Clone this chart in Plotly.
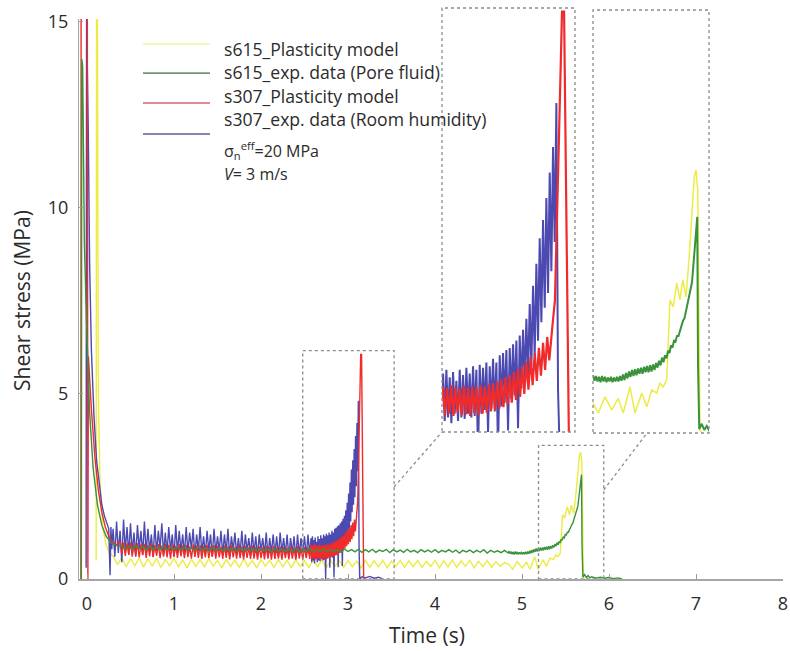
import numpy as np
import plotly.graph_objects as go

# ------------------------------------------------------------------ data
series_names = ["s615_Plasticity model", "s615_exp. data (Pore fluid)",
                "s307_Plasticity model", "s307_exp. data (Room humidity)"]
x_ticks = [0, 1, 2, 3, 4, 5, 6, 7, 8]
y_ticks = [0, 5, 10, 15]

# --- s307 plasticity model (red)
red_start_t = [-0.07, -0.068, 0.004, 0.010, 0.016, 0.05, 0.09, 0.13, 0.17, 0.21, 0.25, 0.30, 0.34]
red_start_v = [0.0, 15.1, 15.1, 0.0, 6.0, 4.6, 3.3, 2.4, 1.8, 1.4, 1.15, 0.98, 0.92]
red_plateau_span = [0.38, 2.56]
red_plateau_v = [1.02, 0.68, 0.98, 0.62, 0.96, 0.66, 0.99, 0.60, 0.94, 0.63,
                 0.97, 0.58, 0.93, 0.64, 0.95, 0.57, 0.92, 0.61, 0.96, 0.59,
                 0.91, 0.62, 0.94, 0.56, 0.90, 0.60, 0.95, 0.58, 0.92, 0.55,
                 0.93, 0.60, 0.89, 0.57, 0.94, 0.61, 0.90, 0.56, 0.92, 0.59,
                 0.88, 0.55, 0.93, 0.60, 0.90, 0.57, 0.91, 0.54, 0.89, 0.58,
                 0.92, 0.56, 0.88, 0.60, 0.91, 0.55, 0.90, 0.58, 0.87, 0.54,
                 0.90, 0.57, 0.88, 0.53, 0.91, 0.58, 0.86, 0.55, 0.90, 0.56,
                 0.87, 0.53, 0.89, 0.57, 0.85, 0.54, 0.90, 0.55, 0.86, 0.52,
                 0.88, 0.56, 0.85, 0.53, 0.89, 0.55, 0.86, 0.52, 0.88, 0.54,
                 0.85, 0.55, 0.87, 0.52, 0.86, 0.56, 0.84, 0.53, 0.87, 0.55,
                 0.85, 0.52, 0.88, 0.55, 0.84, 0.53, 0.86, 0.56, 0.85, 0.54]
red_rise_span = [2.575, 3.085]
red_rise_v = [0.92, 0.53, 0.90, 0.55, 0.94, 0.52, 0.91, 0.56, 0.89, 0.53,
              0.93, 0.54, 0.90, 0.52, 0.92, 0.56, 0.91, 0.53, 0.94, 0.55,
              0.92, 0.56, 0.95, 0.58, 0.97, 0.60, 0.99, 0.62, 1.02, 0.64,
              1.05, 0.67, 1.08, 0.70, 1.12, 0.74, 1.16, 0.78, 1.20, 0.82,
              1.26, 0.88, 1.32, 0.94, 1.38, 1.00, 1.45, 1.07, 1.52, 1.15,
              1.60, 1.28]
red_peak_t = [3.10, 3.112, 3.13, 3.146, 3.156, 3.165, 3.175, 3.18]
red_peak_v = [1.75, 2.10, 4.16, 6.05, 6.05, 3.47, 1.56, 0.0]

# --- s307 experimental data (blue)
blue_start_t = [-0.01, -0.005, 0.015, 0.03, 0.05, 0.08, 0.11, 0.14, 0.17, 0.20, 0.23, 0.25, 0.265, 0.275, 0.285]
blue_start_v = [0.3, 15.1, 12.0, 8.5, 6.2, 4.4, 3.2, 2.5, 2.0, 1.7, 1.5, 1.35, 0.1, 1.4, 0.8]
blue_plateau_span = [0.30, 2.56]
blue_plateau_v = [1.35, 0.60, 1.55, 0.70, 1.30, 0.45, 1.60, 0.75, 1.40, 0.65,
                  1.50, 0.70, 1.25, 0.60, 1.45, 0.80, 1.30, 0.65, 1.55, 0.70,
                  1.35, 0.75, 1.20, 0.60, 1.45, 0.70, 1.30, 0.80, 1.50, 0.65,
                  1.25, 0.70, 1.40, 0.75, 1.20, 0.60, 1.45, 0.70, 1.30, 0.75,
                  1.20, 0.65, 1.40, 0.70, 1.25, 0.80, 1.35, 0.60, 1.20, 0.75,
                  1.40, 0.70, 1.15, 0.65, 1.30, 0.75, 1.20, 0.60, 1.35, 0.70,
                  1.15, 0.75, 1.30, 0.65, 1.20, 0.70, 1.35, 0.60, 1.15, 0.75,
                  1.25, 0.65, 1.10, 0.70, 1.30, 0.60, 1.20, 0.75, 1.10, 0.65,
                  1.25, 0.70, 1.15, 0.60, 1.20, 0.75, 1.10, 0.65, 1.25, 0.60,
                  1.10, 0.70, 1.20, 0.65, 1.15, 0.60, 1.25, 0.70, 1.10, 0.65,
                  1.20, 0.60, 1.10, 0.70, 1.15, 0.55, 1.20, 0.65, 1.10, 0.70,
                  1.15, 0.60, 1.20, 0.65]
blue_rise_span = [2.575, 3.119]
blue_rise_v = [1.10, 0.45, 1.15, 0.50, 1.05, 0.42, 1.12, 0.55, 1.00, 0.45,
               1.15, 0.50, 1.08, 0.48, 1.18, 0.55, 1.10, 0.50, 1.20, 0.52,
               1.15, 0.00, 1.22, 0.55, 1.18, 0.60, 1.25, 0.30, 1.20, 0.62,
               1.30, 0.58, 1.25, 0.05, 1.35, 0.65, 1.38, 0.70, 1.42, 0.32,
               1.45, 0.75, 1.50, 0.80, 1.55, 0.35, 1.62, 0.90, 1.70, 0.98,
               1.85, 1.05, 2.05, 1.20, 2.30, 1.35, 2.60, 1.55, 2.95, 1.80,
               3.20, 2.00, 3.50, 2.20, 3.85, 2.50, 4.20, 2.90, 4.80]
blue_tail_t = [3.127, 3.135, 3.16, 3.20, 3.25, 3.30, 3.35, 3.40]
blue_tail_v = [0.87, 0.0, 0.06, 0.03, 0.07, 0.02, 0.05, 0.0]

# --- s615 experimental data (green)
green_start_t = [-0.065, -0.06, -0.05, -0.03, 0.0, 0.03, 0.07, 0.12, 0.17, 0.22, 0.28, 0.34]
green_start_v = [0.0, 14.0, 13.8, 9.0, 6.5, 4.5, 3.0, 2.0, 1.45, 1.15, 0.97, 0.90]
green_plateau_span = [0.40, 4.84]
green_plateau_v = [0.90, 0.82, 0.88, 0.80, 0.90, 0.81, 0.87, 0.79, 0.89, 0.80,
                   0.86, 0.79, 0.88, 0.78, 0.85, 0.80, 0.87, 0.77, 0.86, 0.79,
                   0.84, 0.77, 0.86, 0.78, 0.83, 0.76, 0.85, 0.78, 0.84, 0.76,
                   0.83, 0.77, 0.85, 0.75, 0.82, 0.77, 0.84, 0.76, 0.82, 0.75,
                   0.83, 0.76, 0.81, 0.74, 0.83, 0.76, 0.82, 0.74, 0.81, 0.75,
                   0.82, 0.74, 0.80, 0.75, 0.82, 0.73, 0.80, 0.75, 0.81, 0.73,
                   0.80, 0.74, 0.79, 0.72, 0.81, 0.74, 0.79, 0.73, 0.80, 0.72,
                   0.79, 0.73, 0.80, 0.72, 0.78, 0.74, 0.80, 0.71, 0.79, 0.73,
                   0.78, 0.72, 0.80, 0.73, 0.77, 0.71, 0.79, 0.73, 0.78, 0.72,
                   0.79, 0.71, 0.77, 0.73, 0.79, 0.72, 0.78, 0.70, 0.77, 0.73,
                   0.78, 0.71, 0.77, 0.72, 0.79, 0.70, 0.77, 0.72, 0.76, 0.71,
                   0.77, 0.70]
green_rise_span = [4.85, 5.678]
green_rise_v = [0.75, 0.68, 0.74, 0.67, 0.73, 0.66, 0.74, 0.67, 0.73, 0.66,
                0.72, 0.67, 0.73, 0.66, 0.72, 0.67, 0.73, 0.67, 0.74, 0.68,
                0.76, 0.69, 0.78, 0.71, 0.80, 0.73, 0.82, 0.74, 0.83, 0.75,
                0.84, 0.77, 0.85, 0.77, 0.86, 0.79, 0.87, 0.79, 0.88, 0.80,
                0.89, 0.82, 0.91, 0.85, 0.94, 0.88, 0.98, 0.92, 1.01, 0.97,
                1.07, 1.04, 1.14, 1.11, 1.20, 1.19, 1.26, 1.26, 1.34, 1.38,
                1.46, 1.49, 1.58, 1.66, 1.77, 1.85, 1.96, 2.20, 2.47, 2.70]
green_tail_t = [5.684, 5.69, 5.694, 5.70, 5.72, 5.74, 5.76, 5.78, 5.80, 5.85,
                5.90, 5.95, 6.00, 6.05, 6.10, 6.15]
green_tail_v = [2.81, 0.90, 0.10, 0.05, 0.12, 0.04, 0.09, 0.03, 0.06, 0.02,
                0.05, 0.02, 0.04, 0.01, 0.03, 0.0]

# --- s615 plasticity model (yellow)
yel_start_t = [0.105, 0.11, 0.12, 0.13, 0.15, 0.18, 0.22, 0.26]
yel_start_v = [0.5, 15.1, 15.1, 5.0, 2.6, 1.4, 0.9, 0.7]
yel_plateau_span = [0.30, 4.80]
yel_plateau_v = [0.62, 0.38, 0.58, 0.33, 0.55, 0.36, 0.56, 0.32, 0.54, 0.35,
                 0.55, 0.31, 0.52, 0.36, 0.56, 0.33, 0.51, 0.30, 0.54, 0.34,
                 0.52, 0.32, 0.55, 0.35, 0.50, 0.30, 0.53, 0.34, 0.51, 0.31,
                 0.54, 0.33, 0.50, 0.30, 0.52, 0.35, 0.50, 0.31, 0.53, 0.33,
                 0.50, 0.30, 0.52, 0.34, 0.49, 0.31, 0.52, 0.33, 0.50, 0.30,
                 0.51, 0.34, 0.49, 0.31, 0.50, 0.33, 0.48, 0.30, 0.50, 0.32,
                 0.49, 0.33, 0.50, 0.30, 0.48, 0.34, 0.50, 0.31, 0.49, 0.33,
                 0.50, 0.31, 0.48, 0.34, 0.50, 0.30, 0.49, 0.33, 0.51, 0.31,
                 0.49, 0.34, 0.50, 0.30, 0.48, 0.33, 0.50, 0.31, 0.47, 0.34,
                 0.44]
yel_rise_t = [4.85, 4.892, 4.946, 5.0, 5.052, 5.092, 5.146, 5.186, 5.24, 5.28,
              5.32, 5.36, 5.386, 5.412, 5.44, 5.466, 5.492, 5.52, 5.546, 5.568,
              5.594, 5.618, 5.64, 5.66, 5.674, 5.688, 5.706, 5.72]
yel_rise_v = [0.39, 0.26, 0.47, 0.30, 0.45, 0.26, 0.60, 0.26, 0.52, 0.34,
              0.56, 0.52, 0.65, 0.60, 0.69, 1.73, 1.64, 1.95, 1.73, 1.99,
              1.77, 2.25, 2.81, 3.33, 3.42, 3.16, 0.04, 0.0]

# zoom windows (data units)
box1 = dict(x=[2.48, 3.53], y=[0.0, 6.15])
box2 = dict(x=[5.19, 5.94], y=[0.0, 3.6])
inset1_range = dict(x=[2.57, 3.2084], y=[0.3, 6.1])
inset2_range = dict(x=[4.85, 5.778], y=[0.0, 5.5])
link1_from = [3.53, 2.48]
link2_from = [5.94, 2.40]

# ------------------------------------------------------------------ build series
def span(s, vals):
    return list(np.linspace(s[0], s[1], len(vals)))

red_t = red_start_t + span(red_plateau_span, red_plateau_v) + span(red_rise_span, red_rise_v) + red_peak_t
red_v = red_start_v + red_plateau_v + red_rise_v + red_peak_v
blue_t = blue_start_t + span(blue_plateau_span, blue_plateau_v) + span(blue_rise_span, blue_rise_v) + blue_tail_t
blue_v = blue_start_v + blue_plateau_v + blue_rise_v + blue_tail_v
green_t = green_start_t + span(green_plateau_span, green_plateau_v) + span(green_rise_span, green_rise_v) + green_tail_t
green_v = green_start_v + green_plateau_v + green_rise_v + green_tail_v
yel_t = yel_start_t + span(yel_plateau_span, yel_plateau_v) + yel_rise_t
yel_v = yel_start_v + yel_plateau_v + yel_rise_v

C_YEL, C_GRN, C_RED, C_BLU = "#ecec45", "#3a923a", "#ef2b2b", "#4c49b0"
L_YEL, L_GRN, L_RED, L_BLU = "#f2f2a8", "#6f9a6f", "#d9646c", "#5b5b9c"

# ------------------------------------------------------------------ figure
X_RANGE = [-0.092, 8.0]
Y_RANGE = [0.0, 15.08]
Y_DOM = [0.0, 0.98074]

fig = go.Figure()
W = 1.4
def add(t, v, c, name, xa="x", ya="y", w=W):
    fig.add_trace(go.Scatter(x=t, y=v, mode="lines", name=name, showlegend=False,
                             line=dict(color=c, width=w), xaxis=xa, yaxis=ya,
                             hoverinfo="skip"))

add(yel_t, yel_v, C_YEL, series_names[0])
add(blue_t, blue_v, C_BLU, series_names[3])
add(red_t, red_v, C_RED, series_names[2])
add(green_t, green_v, C_GRN, series_names[1])
# inset 1 : s307 near failure
add(blue_t, blue_v, C_BLU, series_names[3], "x2", "y2", 2.0)
add(red_t, red_v, C_RED, series_names[2], "x2", "y2", 2.2)
# inset 2 : s615 near failure
add(yel_t, yel_v, C_YEL, series_names[0], "x3", "y3", 1.5)
add(green_t, green_v, C_GRN, series_names[1], "x3", "y3", 2.0)

FAM = "Open Sans, DejaVu Sans, sans-serif"
axis_font = dict(family=FAM, size=18, color="#2b2b2b")
fig.update_layout(
    template="none",
    width=790, height=651,
    margin=dict(l=79, r=7, t=8, b=72, autoexpand=False),
    paper_bgcolor="white", plot_bgcolor="white",
    showlegend=False,
    xaxis=dict(range=X_RANGE, domain=[0, 1], tickvals=x_ticks, ticks="inside", ticklen=5,
               tickcolor="#9a9a9a", showline=True, linecolor="#a5a5a5", linewidth=2,
               showgrid=False, zeroline=False, tickfont=axis_font, ticklabelstandoff=7,
               automargin=False),
    yaxis=dict(range=Y_RANGE, domain=Y_DOM, tickvals=y_ticks, ticks="inside", ticklen=4,
               tickcolor="#9a9a9a", showline=True, linecolor="#a5a5a5", linewidth=1.2,
               showgrid=False, zeroline=False, tickfont=axis_font, ticklabelstandoff=6,
               automargin=False),
    xaxis2=dict(range=inset1_range["x"], domain=[0.51563, 0.70455], anchor="y2", visible=False),
    yaxis2=dict(range=inset1_range["y"], domain=[0.25744, 1.0], anchor="x2", visible=False),
    xaxis3=dict(range=inset2_range["x"], domain=[0.73011, 0.89489], anchor="y3", visible=False),
    yaxis3=dict(range=inset2_range["y"], domain=[0.25569, 0.99650], anchor="x3", visible=False),
)

dash = dict(color="#8c8c8c", width=1.3, dash="3px,3px")
for b in (box1, box2):
    fig.add_shape(type="rect", xref="x", yref="y", x0=b["x"][0], x1=b["x"][1],
                  y0=b["y"][0], y1=b["y"][1], line=dash, layer="above")
for ax in ("x2", "x3"):
    ya = "y" + ax[1:]
    fig.add_shape(type="rect", xref=ax + " domain", yref=ya + " domain", x0=0, x1=1, y0=0, y1=1,
                  line=dash, layer="above")

def to_paper(x, y):
    px = (x - X_RANGE[0]) / (X_RANGE[1] - X_RANGE[0])
    py = Y_DOM[0] + (y - Y_RANGE[0]) / (Y_RANGE[1] - Y_RANGE[0]) * (Y_DOM[1] - Y_DOM[0])
    return px, py

p = to_paper(*link1_from)
fig.add_shape(type="line", xref="paper", yref="paper", x0=p[0], y0=p[1], x1=0.51563, y1=0.25744, line=dash)
p = to_paper(*link2_from)
fig.add_shape(type="line", xref="paper", yref="paper", x0=p[0], y0=p[1],
              x1=0.73011 + 0.466 * (0.89489 - 0.73011), y1=0.25569, line=dash)

# hand-made legend (long line samples as in the original)
leg_line_y = [0.937, 0.886, 0.8336, 0.7793]
leg_text_y = [0.9282, 0.8879, 0.8459, 0.8056]
leg_colors = [L_YEL, L_GRN, L_RED, L_BLU]
leg_font = dict(family=FAM, size=17.6, color="#2b2b2b")
for i, nm in enumerate(series_names):
    fig.add_shape(type="line", xref="paper", yref="paper", x0=0.0909, x1=0.1861,
                  y0=leg_line_y[i], y1=leg_line_y[i], line=dict(color=leg_colors[i], width=1.6))
    fig.add_annotation(xref="paper", yref="paper", x=0.2031, y=leg_text_y[i], text=nm,
                       showarrow=False, xanchor="left", yanchor="middle", font=leg_font)
fig.add_annotation(xref="paper", yref="paper", x=0.2031, y=0.7513,
                   text="σ<sub>n</sub><sup>eff</sup>=20 MPa", showarrow=False,
                   xanchor="left", yanchor="middle", font=dict(family=FAM, size=16, color="#2b2b2b"))
fig.add_annotation(xref="paper", yref="paper", x=0.2031, y=0.7085,
                   text="<i>V</i>= 3 m/s", showarrow=False,
                   xanchor="left", yanchor="middle", font=dict(family=FAM, size=16, color="#2b2b2b"))

# axis titles
title_font = dict(family=FAM, size=21, color="#2b2b2b")
fig.add_annotation(xref="paper", yref="paper", x=0.494, y=-0.098, text="Time (s)",
                   showarrow=False, xanchor="center", yanchor="middle", font=title_font)
fig.add_annotation(xref="paper", yref="paper", x=-0.081, y=0.4886, text="Shear stress (MPa)",
                   textangle=-90, showarrow=False, xanchor="center", yanchor="middle", font=title_font)

fig.write_html("out.html")
